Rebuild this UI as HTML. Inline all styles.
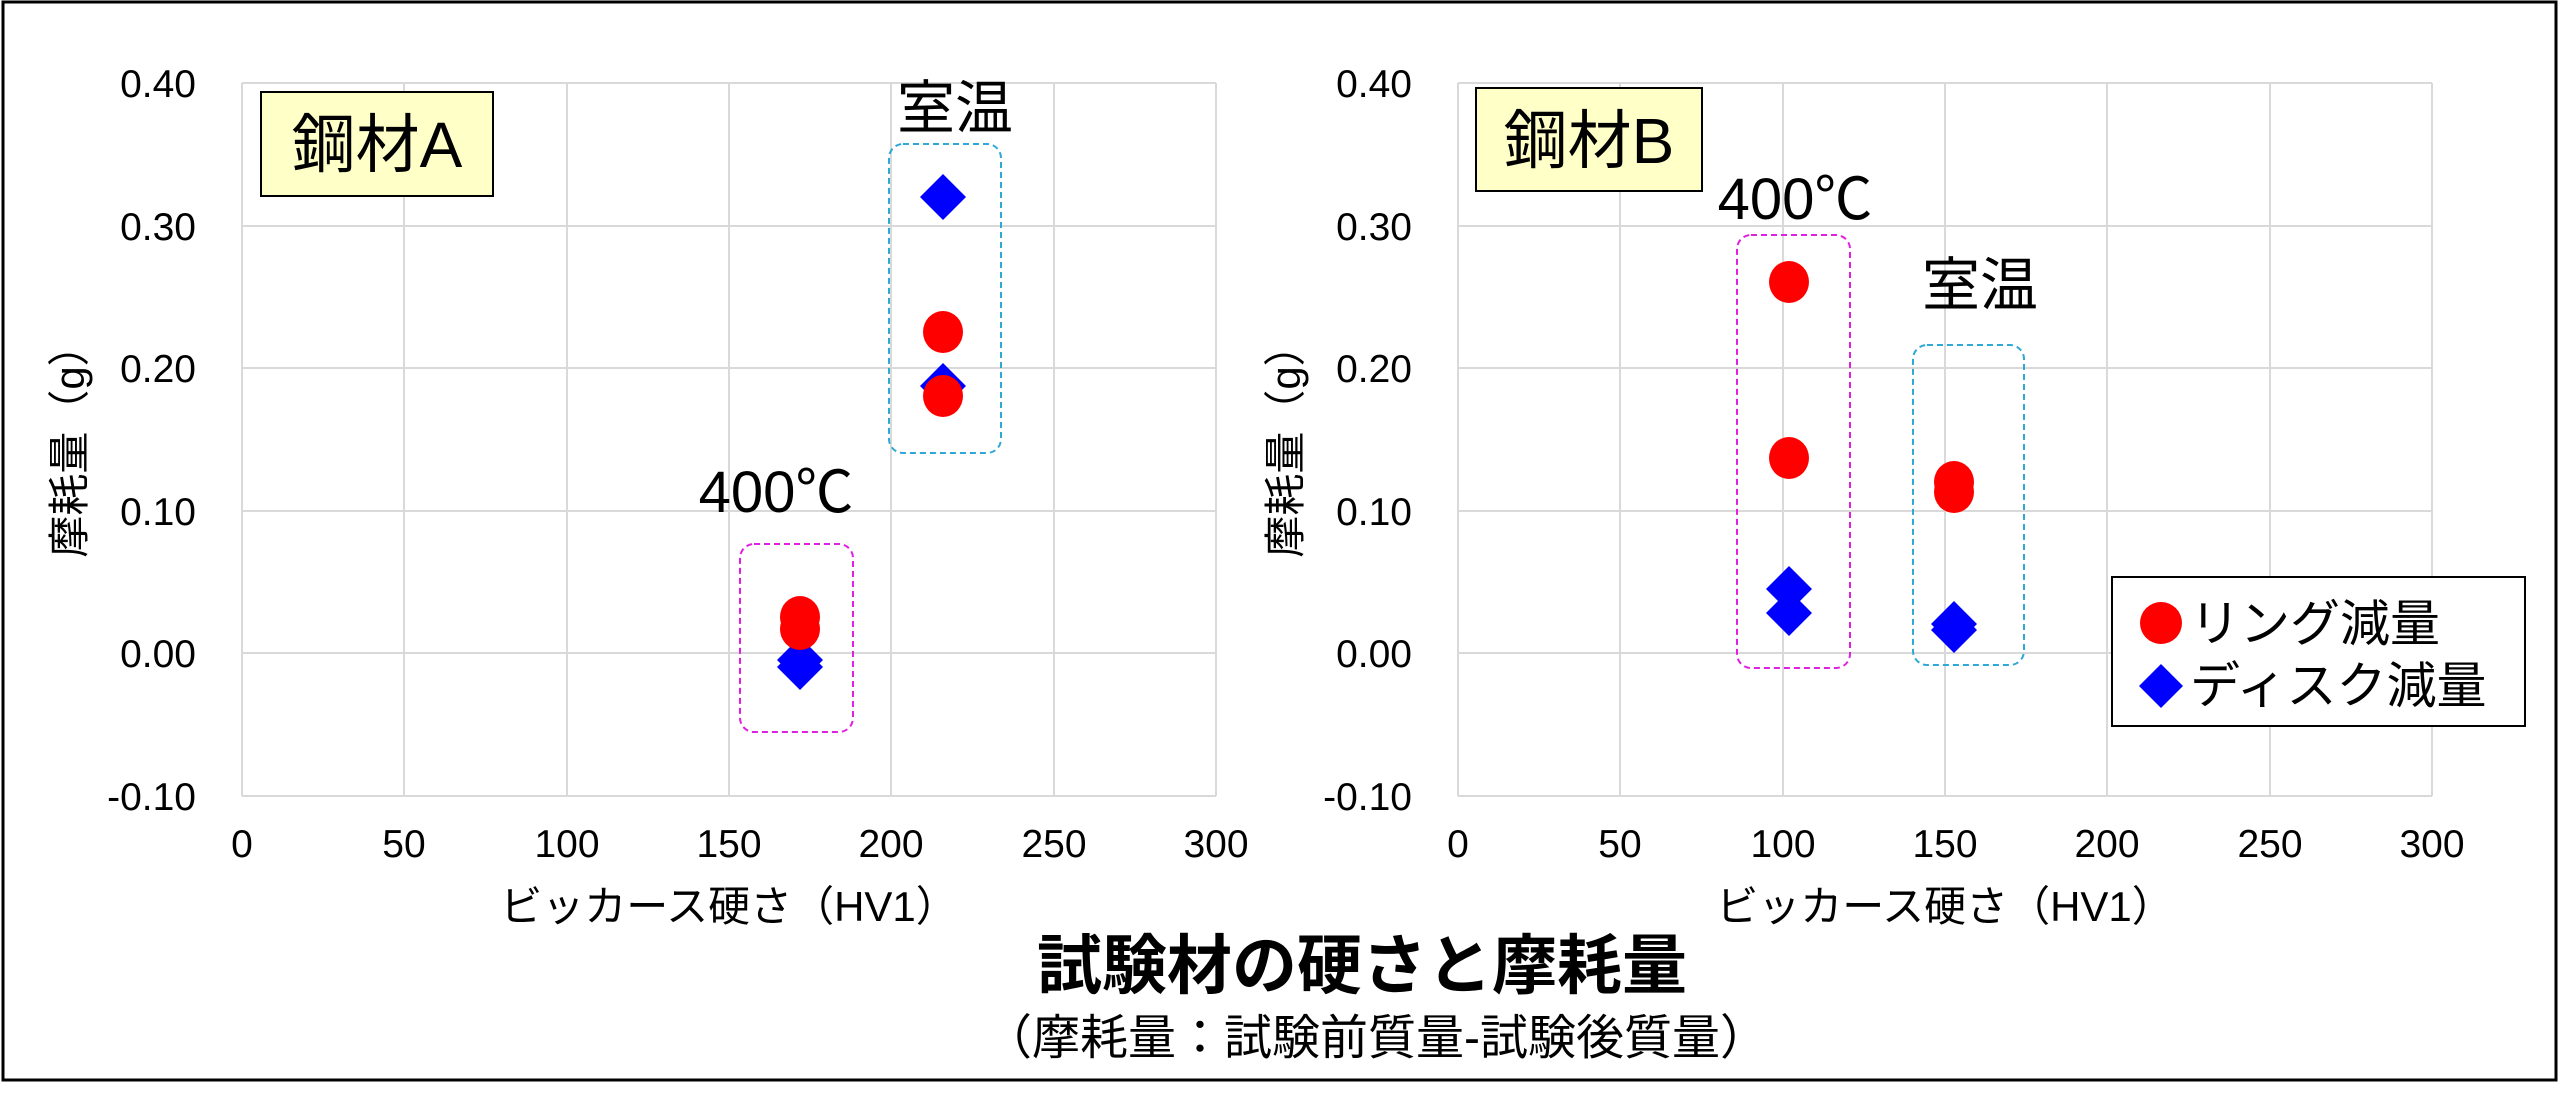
<!DOCTYPE html>
<html><head><meta charset="utf-8"><style>
html,body{margin:0;padding:0;background:#fff;}
svg{display:block;}
text{font-family:"Liberation Sans","Noto Sans CJK JP",sans-serif;}
</style></head><body>
<svg width="2560" height="1099" viewBox="0 0 2560 1099" xmlns="http://www.w3.org/2000/svg">
<rect x="0" y="0" width="2560" height="1099" fill="#fff"/>
<rect x="3" y="2" width="2553" height="1078" fill="none" stroke="#000" stroke-width="3"/>
<defs>
<g id="grid">
<g stroke="#d9d9d9" stroke-width="2" fill="none">
<line x1="0" y1="83" x2="974" y2="83"/>
<line x1="0" y1="226" x2="974" y2="226"/>
<line x1="0" y1="368" x2="974" y2="368"/>
<line x1="0" y1="511" x2="974" y2="511"/>
<line x1="0" y1="653" x2="974" y2="653"/>
<line x1="0" y1="796" x2="974" y2="796"/>
<line x1="0" y1="83" x2="0" y2="796"/>
<line x1="162" y1="83" x2="162" y2="796"/>
<line x1="325" y1="83" x2="325" y2="796"/>
<line x1="487" y1="83" x2="487" y2="796"/>
<line x1="649" y1="83" x2="649" y2="796"/>
<line x1="812" y1="83" x2="812" y2="796"/>
<line x1="974" y1="83" x2="974" y2="796"/>
</g>
<g font-size="39" fill="#000" text-anchor="end">
<text x="-46" y="97">0.40</text>
<text x="-46" y="240">0.30</text>
<text x="-46" y="382">0.20</text>
<text x="-46" y="525">0.10</text>
<text x="-46" y="667">0.00</text>
<text x="-46" y="810">-0.10</text>
</g>
<g font-size="39" fill="#000" text-anchor="middle">
<text x="0" y="857">0</text>
<text x="162" y="857">50</text>
<text x="325" y="857">100</text>
<text x="487" y="857">150</text>
<text x="649" y="857">200</text>
<text x="812" y="857">250</text>
<text x="974" y="857">300</text>
</g>
<text x="487" y="921" font-size="42" text-anchor="middle" fill="#000">ビッカース硬さ（HV1）</text>
<text transform="translate(-158,441) rotate(-90)" font-size="42" text-anchor="middle" fill="#000">摩耗量（g）</text>
</g>
</defs>

<use href="#grid" x="242" y="0"/>
<use href="#grid" x="1458" y="0"/>

<!-- chart A -->
<rect x="261" y="92" width="232" height="104" fill="#ffffc8" stroke="#000" stroke-width="2"/>
<text x="377" y="167" font-size="64" text-anchor="middle">鋼材A</text>
<rect x="889" y="144" width="112" height="309" rx="14" fill="none" stroke="#2ea8d4" stroke-width="2" stroke-dasharray="6,4"/>
<rect x="740" y="544" width="113" height="188" rx="14" fill="none" stroke="#e020e0" stroke-width="2" stroke-dasharray="6,4"/>
<text x="955" y="128" font-size="58" text-anchor="middle">室温</text>
<text x="776" y="512" font-size="58" text-anchor="middle">400℃</text>
<g fill="#0000ff">
<polygon points="943,174 966,197 943,220 920,197"/>
<polygon points="943,363 966,386 943,409 920,386"/>
<polygon points="800,637 823,660 800,683 777,660"/>
<polygon points="800,644 823,667 800,690 777,667"/>
</g>
<g fill="#ff0000">
<ellipse cx="943" cy="332" rx="20" ry="21"/>
<ellipse cx="943" cy="396" rx="20" ry="21"/>
<ellipse cx="800" cy="617" rx="20" ry="21"/>
<ellipse cx="800" cy="629" rx="20" ry="21"/>
</g>

<!-- chart B -->
<rect x="1476" y="88" width="226" height="103" fill="#ffffc8" stroke="#000" stroke-width="2"/>
<text x="1589" y="163" font-size="64" text-anchor="middle">鋼材B</text>
<rect x="1737" y="235" width="113" height="433" rx="14" fill="none" stroke="#e020e0" stroke-width="2" stroke-dasharray="6,4"/>
<rect x="1913" y="345" width="111" height="320" rx="14" fill="none" stroke="#2ea8d4" stroke-width="2" stroke-dasharray="6,4"/>
<text x="1795" y="219" font-size="58" text-anchor="middle">400℃</text>
<text x="1980" y="305" font-size="58" text-anchor="middle">室温</text>
<g fill="#0000ff">
<polygon points="1789,566 1812,589 1789,612 1766,589"/>
<polygon points="1789,590 1812,613 1789,636 1766,613"/>
<polygon points="1954,601 1977,624 1954,647 1931,624"/>
<polygon points="1954,607 1977,630 1954,653 1931,630"/>
</g>
<g fill="#ff0000">
<ellipse cx="1789" cy="282" rx="20" ry="21"/>
<ellipse cx="1789" cy="458" rx="20" ry="21"/>
<ellipse cx="1954" cy="482" rx="20" ry="21"/>
<ellipse cx="1954" cy="492" rx="20" ry="21"/>
</g>

<!-- legend -->
<rect x="2112" y="577" width="413" height="149" fill="#fff" stroke="#000" stroke-width="2"/>
<circle cx="2161" cy="623" r="21" fill="#ff0000"/>
<polygon points="2161,664 2183,686 2161,708 2139,686" fill="#0000ff"/>
<text x="2190" y="641" font-size="50">リング減量</text>
<text x="2190" y="703" font-size="50">ディスク減量</text>

<!-- titles -->
<text x="1362" y="988" font-size="65" font-weight="bold" text-anchor="middle">試験材の硬さと摩耗量</text>
<text x="1376" y="1054" font-size="48" text-anchor="middle">（摩耗量：試験前質量-試験後質量）</text>
</svg>
</body></html>
